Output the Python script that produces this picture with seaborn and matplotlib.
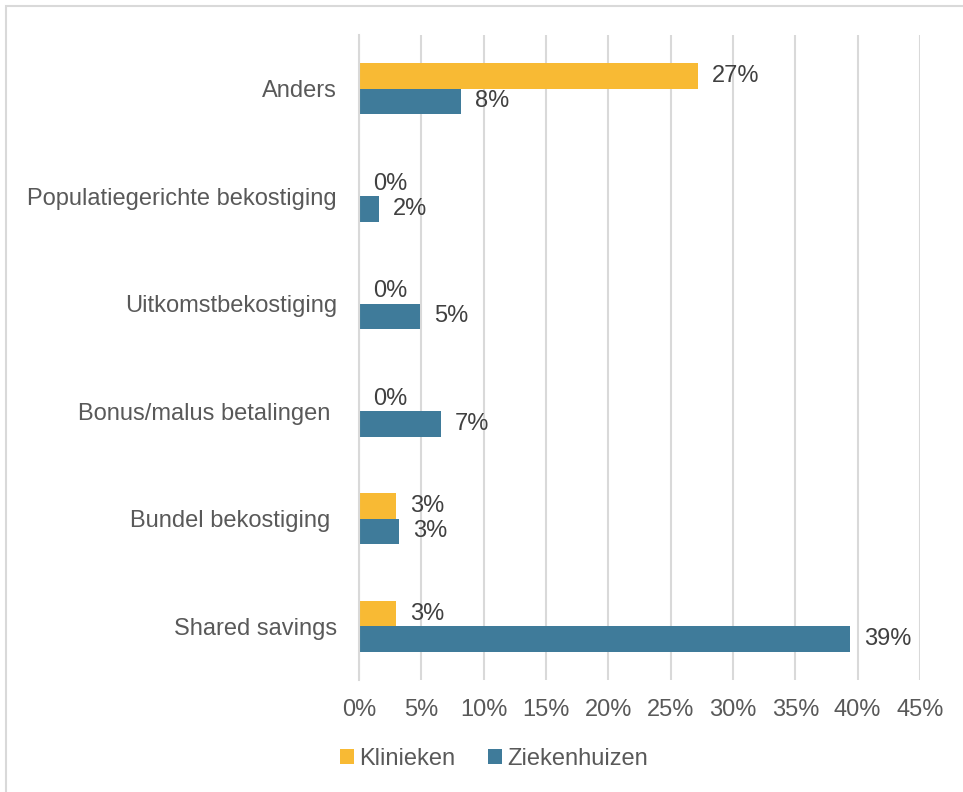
import pandas as pd
import seaborn as sns
import matplotlib.pyplot as plt
from matplotlib.patches import Rectangle

categories = ['Anders', 'Populatiegerichte bekostiging', 'Uitkomstbekostiging',
              'Bonus/malus betalingen ', 'Bundel bekostiging ', 'Shared savings']
series = ['Klinieken', 'Ziekenhuizen']
klinieken = [27.2, 0.0, 0.0, 0.0, 3.0, 3.0]
ziekenhuizen = [8.2, 1.6, 4.9, 6.6, 3.2, 39.4]
xticks = [0, 5, 10, 15, 20, 25, 30, 35, 40, 45]
colors = ['#F8BA34', '#3F7B9A']

df = pd.DataFrame({
    'categorie': categories * 2,
    'reeks': [series[0]] * len(categories) + [series[1]] * len(categories),
    'waarde': klinieken + ziekenhuizen,
})

sns.set_style('white')
plt.rcParams['font.family'] = ['Liberation Sans', 'DejaVu Sans']
fs = 17

fig = plt.figure(figsize=(9.63, 7.92), dpi=100)
ax = fig.add_axes([0.3728, 0.1414, 0.5825, 0.8144])

sns.barplot(data=df, y='categorie', x='waarde', hue='reeks', hue_order=series,
            order=categories, palette=colors, saturation=1, width=0.47, gap=0,
            orient='h', linewidth=0, ax=ax, legend=True)

for cont in ax.containers:
    ax.bar_label(cont, fmt='{:.0f}%', padding=10, fontsize=fs, color='#404040')

ax.set_xlim(0, 45)
ax.set_xticks(xticks)
ax.set_xticklabels([f'{t}%' for t in xticks])
ax.set_xlabel('')
ax.set_ylabel('')
ax.grid(axis='x', color='#D9D9D9', linewidth=1.5)
ax.set_axisbelow(True)
for s in ['top', 'right', 'bottom']:
    ax.spines[s].set_visible(False)
ax.spines['left'].set_color('#D9D9D9')
ax.spines['left'].set_linewidth(1.5)
ax.tick_params(axis='x', length=0, pad=14, labelsize=fs, labelcolor='#595959')
ax.tick_params(axis='y', length=0, pad=16, labelsize=fs, labelcolor='#595959')

ax.legend(loc='center', bbox_to_anchor=(0.513, 1 - 759 / 792), bbox_transform=fig.transFigure,
          ncol=2, frameon=False, fontsize=fs, handlelength=0.6, handleheight=0.6,
          handletextpad=0.2, columnspacing=1.4, labelcolor='#595959')

fig.patches.append(Rectangle((6 / 963, -0.1), 1.2, 1 - 6 / 792 + 0.1, transform=fig.transFigure,
                             fill=False, edgecolor='#D9D9D9', linewidth=1.5))

fig.savefig('out.png', dpi=100)
